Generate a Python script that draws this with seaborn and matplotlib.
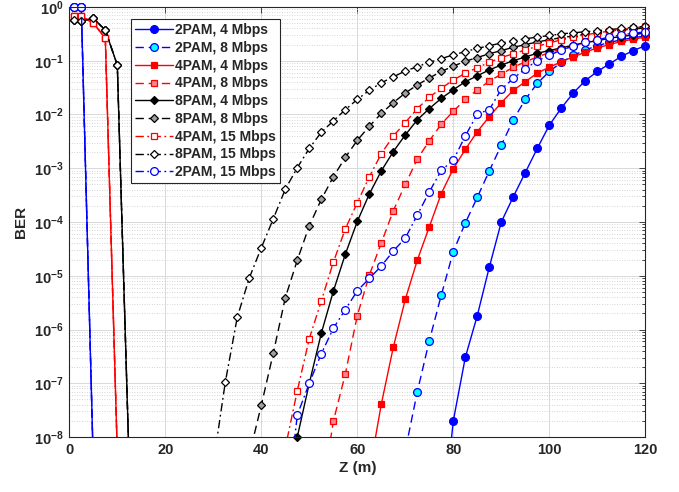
import numpy as np
import matplotlib
matplotlib.use("Agg")
import matplotlib.pyplot as plt
import seaborn as sns
from matplotlib.lines import Line2D
from matplotlib.ticker import FixedLocator, NullFormatter

# ---------------- data (log10 BER) ----------------
Z_HEAD_2PAM = [1, 2.5, 5]
Z_HEAD_4PAM = [1, 2.5, 5, 7.5, 10]
Z_HEAD_8PAM = [1, 2.5, 5, 7.5, 10, 12.5]

HEAD_2PAM = [0.0, 0.0, -8.5]
HEAD_4PAM = [-0.17, -0.17, -0.30, -0.58, -8.3]
HEAD_8PAM = [-0.24, -0.26, -0.21, -0.43, -1.08, -8.6]

pam2_4_start = 77.5
pam2_4 = [-9.8, -7.70, -6.52, -5.74, -4.84, -4.00, -3.53, -3.08, -2.63, -2.20, -1.88,
          -1.60, -1.37, -1.20, -1.06, -0.92, -0.81, -0.72]

pam2_8_start = 70
pam2_8 = [-8.25, -7.16, -6.21, -5.36, -4.55, -4.02, -3.54, -3.05, -2.57, -2.10, -1.72,
          -1.42, -1.20, -1.03, -0.90, -0.80, -0.72, -0.66, -0.61, -0.57, -0.54]

pam4_4_start = 62.5
pam4_4 = [-8.66, -7.39, -6.33, -5.44, -4.71, -4.09, -3.47, -3.01, -2.65, -2.32, -2.04,
          -1.78, -1.55, -1.39, -1.23, -1.12, -1.02, -0.93, -0.84, -0.76, -0.70, -0.64,
          -0.60, -0.56]

pam4_8_start = 52.5
pam4_8 = [-9.16, -7.71, -6.83, -5.74, -4.99, -4.39, -3.79, -3.30, -2.83, -2.49, -2.18,
          -1.94, -1.72, -1.54, -1.38, -1.25, -1.12, -1.02, -0.93, -0.85, -0.78, -0.72,
          -0.66, -0.61, -0.57, -0.53, -0.50, -0.47]

pam8_4_start = 47.5
pam8_4 = [-8.0, -7.0, -6.07, -5.29, -4.60, -3.99, -3.48, -3.05, -2.69, -2.38, -2.10,
          -1.89, -1.70, -1.54, -1.39, -1.28, -1.17, -1.08, -1.00, -0.93, -0.86, -0.81,
          -0.76, -0.71, -0.66, -0.63, -0.58, -0.55, -0.52, -0.48]

pam8_8_start = 37.5
pam8_8 = [-8.33, -7.41, -6.44, -5.41, -4.71, -4.07, -3.58, -3.16, -2.80, -2.48, -2.22,
          -1.98, -1.78, -1.60, -1.45, -1.32, -1.20, -1.10, -1.01, -0.94, -0.87, -0.81,
          -0.75, -0.70, -0.65, -0.61, -0.57, -0.54, -0.51, -0.48, -0.45, -0.43, -0.41,
          -0.39]

pam4_15_start = 45
pam4_15 = [-8.2, -7.14, -6.17, -5.47, -4.75, -4.13, -3.64, -3.16, -2.73, -2.40, -2.15,
           -1.89, -1.68, -1.51, -1.36, -1.23, -1.13, -1.03, -0.94, -0.87, -0.80, -0.73,
           -0.67, -0.61, -0.56, -0.52, -0.48, -0.45, -0.42, -0.39, -0.37]

pam8_15_start = 30
pam8_15 = [-8.5, -6.98, -5.77, -5.04, -4.48, -3.94, -3.39, -2.99, -2.63, -2.33, -2.12,
           -1.91, -1.72, -1.55, -1.41, -1.30, -1.19, -1.11, -1.03, -0.96, -0.89, -0.83,
           -0.77, -0.72, -0.67, -0.63, -0.59, -0.56, -0.53, -0.50, -0.48, -0.46, -0.44,
           -0.42, -0.40, -0.38, -0.36]

pam2_15_start = 45
pam2_15 = [-9.6, -7.59, -7.0, -6.45, -5.98, -5.63, -5.28, -5.05, -4.82, -4.54, -4.30,
           -3.87, -3.44, -3.04, -2.85, -2.40, -1.99, -1.91, -1.53, -1.33, -1.15, -1.00,
           -0.90, -0.80, -0.73, -0.66, -0.61, -0.56, -0.52, -0.49, -0.46]

labels = ["2PAM, 4 Mbps", "2PAM, 8 Mbps", "4PAM, 4 Mbps", "4PAM, 8 Mbps",
          "8PAM, 4 Mbps", "8PAM, 8 Mbps", "4PAM, 15 Mbps", "8PAM, 15 Mbps",
          "2PAM, 15 Mbps"]

x_ticks = [0, 20, 40, 60, 80, 100, 120]
y_exps = list(range(-8, 1))


def tail_z(start, n):
    return list(start + 2.5 * np.arange(n))


series_data = [
    (Z_HEAD_2PAM + tail_z(pam2_4_start, len(pam2_4)), HEAD_2PAM + pam2_4),
    (Z_HEAD_2PAM + tail_z(pam2_8_start, len(pam2_8)), HEAD_2PAM + pam2_8),
    (Z_HEAD_4PAM + tail_z(pam4_4_start, len(pam4_4)), HEAD_4PAM + pam4_4),
    (Z_HEAD_4PAM + tail_z(pam4_8_start, len(pam4_8)), HEAD_4PAM + pam4_8),
    (Z_HEAD_8PAM + tail_z(pam8_4_start, len(pam8_4)), HEAD_8PAM + pam8_4),
    (Z_HEAD_8PAM + tail_z(pam8_8_start, len(pam8_8)), HEAD_8PAM + pam8_8),
    (Z_HEAD_4PAM + tail_z(pam4_15_start, len(pam4_15)), HEAD_4PAM + pam4_15),
    (Z_HEAD_8PAM + tail_z(pam8_15_start, len(pam8_15)), HEAD_8PAM + pam8_15),
    (Z_HEAD_2PAM + tail_z(pam2_15_start, len(pam2_15)), HEAD_2PAM + pam2_15),
]

DASH = (0, (6.0, 3.5))
DASHDOT = (0, (6.0, 2.5, 1.3, 2.5))
styles = [
    dict(color="#0000FF", ls="-", m="o", ms=5.6, mfc="#0000FF", mec="#0000FF"),
    dict(color="#0000FF", ls=DASH, m="o", ms=5.6, mfc="#00FFFF", mec="#0000FF"),
    dict(color="#FF0000", ls="-", m="s", ms=4.7, mfc="#FF0000", mec="#FF0000"),
    dict(color="#FF0000", ls=DASH, m="s", ms=4.7, mfc="#F4878F", mec="#FF0000"),
    dict(color="#000000", ls="-", m="D", ms=4.5, mfc="#000000", mec="#000000"),
    dict(color="#000000", ls=DASH, m="D", ms=4.5, mfc="#A0A0A0", mec="#000000"),
    dict(color="#FF0000", ls=DASHDOT, m="s", ms=4.7, mfc="#FFFFFF", mec="#FF0000"),
    dict(color="#000000", ls=DASHDOT, m="D", ms=4.5, mfc="#FFFFFF", mec="#000000"),
    dict(color="#0000FF", ls=DASHDOT, m="o", ms=5.6, mfc="#FFFFFF", mec="#0000FF"),
]

# ---------------- style ----------------
sns.set_style("white")
plt.rcParams["font.family"] = ["Liberation Sans", "DejaVu Sans"]
plt.rcParams["font.weight"] = "bold"
plt.rcParams["mathtext.fontset"] = "custom"
plt.rcParams["mathtext.rm"] = "Liberation Sans:bold"
plt.rcParams["mathtext.bf"] = "Liberation Sans:bold"
plt.rcParams["mathtext.it"] = "Liberation Sans:bold"
plt.rcParams["mathtext.default"] = "bf"

W, H = 679, 492
fig = plt.figure(figsize=(W / 100, H / 100), dpi=100)
ax = fig.add_axes([69.3 / W, (H - 437) / H, 576 / W, 430 / H])
ax.set_yscale("log")
ax.set_xlim(0, 120)
ax.set_ylim(1e-8, 1)

handles = []
for (z, lg), st, lab in zip(series_data, styles, labels):
    z = np.asarray(z, float)
    b = 10.0 ** np.asarray(lg, float)
    n_before = len(ax.lines)
    sns.lineplot(x=z, y=b, ax=ax, color=st["color"], linewidth=1.0,
                 linestyle=st["ls"], estimator=None, sort=False, legend=False)
    for ln in ax.lines[n_before:]:
        ln.set_linestyle(st["ls"])
    vis = b >= 1e-8 * (1 - 1e-6)
    sns.lineplot(x=z[vis], y=b[vis], ax=ax, color=st["color"], linestyle="none",
                 marker=st["m"], markersize=st["ms"], markerfacecolor=st["mfc"],
                 markeredgecolor=st["mec"], markeredgewidth=0.9, clip_on=False,
                 estimator=None, sort=False, legend=False)
    h = Line2D([], [], color=st["color"], linewidth=1.0, linestyle=st["ls"],
               marker=st["m"], markersize=st["ms"], markerfacecolor=st["mfc"],
               markeredgecolor=st["mec"], markeredgewidth=0.9)
    handles.append(h)

# ticks & grid
ax.xaxis.set_major_locator(FixedLocator(x_ticks))
ax.set_xticklabels([str(t) for t in x_ticks])
ax.yaxis.set_major_locator(FixedLocator([10.0 ** k for k in y_exps]))
ax.set_yticklabels([r"$10^{%d}$" % k for k in y_exps])
minor_y = [m * 10.0 ** k for k in range(-8, 0) for m in range(2, 10)]
ax.yaxis.set_minor_locator(FixedLocator(minor_y))
ax.yaxis.set_minor_formatter(NullFormatter())
ax.tick_params(axis="both", which="both", direction="in", top=True, right=True,
               labelsize=10.5, width=0.6, colors="#262626", labelcolor="#262626")
ax.tick_params(axis="both", which="major", length=4, pad=4)
ax.tick_params(axis="y", which="minor", length=2)
ax.tick_params(axis="x", which="minor", length=0)
ax.grid(True, which="major", color="#D9D9D9", linewidth=0.7, linestyle="-")
ax.grid(True, which="minor", axis="y", color="#C8C8C8", linewidth=0.6,
        linestyle=(0, (1, 2)))
ax.set_axisbelow(True)
for sp in ax.spines.values():
    sp.set_color("#262626")
    sp.set_linewidth(0.8)

ax.set_xlabel("Z (m)", fontsize=11, fontweight="bold", color="#262626", labelpad=3)
ax.set_ylabel("BER", fontsize=11, fontweight="bold", color="#262626", labelpad=4)

leg = ax.legend(handles, labels, loc="upper left",
                bbox_to_anchor=((131 - 69.3) / 576, 1 - (19 - 7) / 430),
                borderaxespad=0, frameon=True, fancybox=False, edgecolor="#262626",
                framealpha=1, prop=dict(size=10, weight="bold"),
                handlelength=2.7, handletextpad=0.2, labelspacing=0.27,
                borderpad=0.3)
leg.get_frame().set_linewidth(0.8)

fig.savefig("out.png", dpi=100)
